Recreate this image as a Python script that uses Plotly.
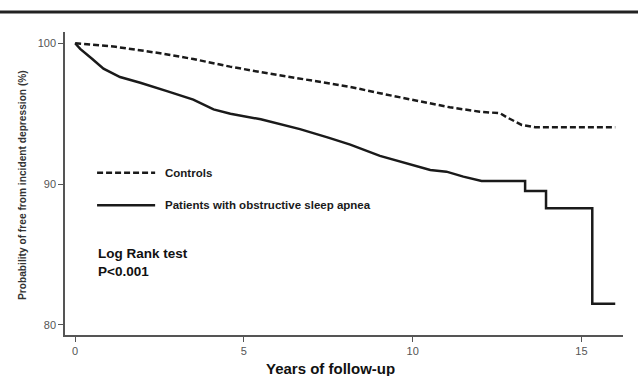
import plotly.graph_objects as go

# Kaplan-Meier estimates
ctrl_t = [0, 0.2, 0.53, 1.2, 1.8, 2.52, 3.5, 4.59, 5.5, 6.66, 7.5, 8.15, 9.03, 10.02, 10.52, 11.1, 11.99, 12.59, 12.79, 13.23, 13.63, 16.0]
ctrl_s = [100, 99.97, 99.9, 99.75, 99.55, 99.29, 98.88, 98.34, 97.95, 97.5, 97.2, 96.9, 96.45, 95.97, 95.74, 95.45, 95.14, 95.03, 94.74, 94.2, 94.03, 94.03]

osa_t = [0, 0.15, 0.5, 0.84, 1.33, 1.93, 2.72, 3.5, 4.1, 4.6, 5.5, 6.66, 7.5, 8.15, 9.03, 9.63, 10.22, 10.52, 11.0, 11.5, 12.04, 13.33, 13.33, 13.95, 13.95, 15.32, 15.32, 16.0]
osa_s = [100, 99.6, 98.9, 98.2, 97.6, 97.2, 96.6, 96.0, 95.3, 95.0, 94.6, 93.9, 93.3, 92.8, 92.0, 91.6, 91.24, 91.0, 90.88, 90.53, 90.22, 90.22, 89.5, 89.5, 88.28, 88.28, 81.5, 81.5]

x_ticks = [0, 5, 10, 15]
y_ticks = [80, 90, 100]

legend_labels = ["Controls", "Patients with obstructive sleep apnea"]
stat_text = "Log Rank test<br>P<0.001"
x_title = "Years of follow-up"
y_title = "Probability of free from incident depression (%)"

FONT = "Arial, Liberation Sans, sans-serif"

fig = go.Figure()
fig.add_trace(go.Scatter(x=ctrl_t, y=ctrl_s, mode="lines", name=legend_labels[0],
                         line=dict(color="#1a1a1a", width=2.5, dash="6px,3px")))
fig.add_trace(go.Scatter(x=osa_t, y=osa_s, mode="lines", name=legend_labels[1],
                         line=dict(color="#1a1a1a", width=2.5)))

# hand-drawn legend (as in the original)
fig.add_shape(type="line", xref="x", yref="y", x0=0.65, x1=2.37, y0=90.81, y1=90.81,
              line=dict(color="#1a1a1a", width=2.5, dash="6px,3px"))
fig.add_shape(type="line", xref="x", yref="y", x0=0.65, x1=2.37, y0=88.5, y1=88.5,
              line=dict(color="#1a1a1a", width=2.5))
fig.add_annotation(x=2.6, y=90.81, xref="x", yref="y", text="<b>" + legend_labels[0] + "</b>",
                   showarrow=False, xanchor="left", yanchor="middle",
                   font=dict(family=FONT, size=11.5, color="#1a1a1a"))
fig.add_annotation(x=2.6, y=88.5, xref="x", yref="y", text="<b>" + legend_labels[1] + "</b>",
                   showarrow=False, xanchor="left", yanchor="middle",
                   font=dict(family=FONT, size=11.5, color="#1a1a1a"))
fig.add_annotation(x=0.62, y=84.4, xref="x", yref="y", text="<b>" + stat_text + "</b>",
                   showarrow=False, xanchor="left", yanchor="middle", align="left",
                   font=dict(family=FONT, size=13.5, color="#111"))

# axis titles
fig.add_annotation(x=0.475, y=-0.112, xref="paper", yref="paper", text="<b>" + x_title + "</b>",
                   showarrow=False, xanchor="center", yanchor="middle",
                   font=dict(family=FONT, size=15, color="#111"))
fig.add_annotation(x=-0.077, y=0.495, xref="paper", yref="paper", text="<b>" + y_title + "</b>",
                   showarrow=False, textangle=-90, xanchor="center", yanchor="middle",
                   font=dict(family=FONT, size=10.2, color="#333"))

# top rule
fig.add_shape(type="line", xref="paper", yref="paper", x0=-0.12, x1=1.03, y0=1.066, y1=1.066,
              line=dict(color="#222", width=3))

fig.update_xaxes(range=[-0.3, 16.23], tickvals=x_ticks, ticktext=[str(v) for v in x_ticks],
                 showgrid=False, zeroline=False, showline=True, linecolor="#555", linewidth=1.5,
                 ticks="outside", ticklen=5, tickcolor="#555", tickwidth=1,
                 tickfont=dict(family=FONT, size=11, color="#555"))
fig.update_yaxes(range=[79.28, 100.8], tickvals=y_ticks, ticktext=[str(v) for v in y_ticks],
                 showgrid=False, zeroline=False, showline=True, linecolor="#555", linewidth=1.5,
                 ticks="outside", ticklen=5, tickcolor="#555", tickwidth=1,
                 tickfont=dict(family=FONT, size=11, color="#555"))

fig.update_layout(width=638, height=376, showlegend=False,
                  margin=dict(l=65, r=15, t=32, b=41),
                  paper_bgcolor="white", plot_bgcolor="white")

fig.write_html("out.html", config={"displayModeBar": False},
               post_script="document.body.style.margin='0';document.body.style.overflow='hidden';")
